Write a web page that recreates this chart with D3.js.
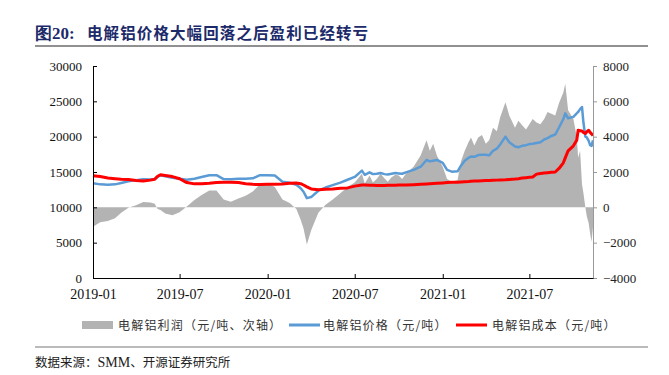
<!DOCTYPE html>
<html>
<head>
<meta charset="utf-8">
<script src="https://cdn.jsdelivr.net/npm/d3@7"></script>
<style>
  body { margin: 0; background: #fff; }
  svg { display: block; }
</style>
</head>
<body>
<div id="chart"></div>
<script>
// dates of the sampled points
const dates = [
  '2019-01-01','2019-01-16','2019-02-01','2019-02-16','2019-03-01','2019-03-16','2019-04-01','2019-04-16',
  '2019-05-01','2019-05-10','2019-05-16','2019-05-22','2019-06-01','2019-06-16','2019-07-01','2019-07-16',
  '2019-08-01','2019-08-16','2019-09-01','2019-09-16','2019-10-01','2019-10-16','2019-11-01','2019-11-16',
  '2019-12-01','2019-12-16','2020-01-01','2020-01-16','2020-02-01','2020-02-16','2020-03-01','2020-03-10',
  '2020-03-16','2020-03-23','2020-04-01','2020-04-16','2020-05-01','2020-05-16','2020-06-01','2020-06-16',
  '2020-07-01','2020-07-16','2020-07-22','2020-08-01','2020-08-08','2020-08-16','2020-08-24','2020-09-01',
  '2020-09-08','2020-09-16','2020-09-24','2020-10-01','2020-10-08','2020-10-16','2020-11-01','2020-11-16',
  '2020-11-28','2020-12-05','2020-12-12','2020-12-20','2021-01-01','2021-01-10','2021-01-20','2021-02-01',
  '2021-02-08','2021-02-16','2021-02-24','2021-03-01','2021-03-08','2021-03-16','2021-03-24','2021-04-01',
  '2021-04-08','2021-04-16','2021-04-24','2021-05-01','2021-05-12','2021-05-20','2021-06-01','2021-06-08',
  '2021-06-16','2021-06-24','2021-07-01','2021-07-08','2021-07-16','2021-07-24','2021-08-01','2021-08-08',
  '2021-08-16','2021-08-24','2021-09-01','2021-09-10','2021-09-14','2021-09-20','2021-10-01','2021-10-08',
  '2021-10-11','2021-10-15','2021-10-19','2021-10-22','2021-10-26','2021-10-29','2021-11-02','2021-11-05',
  '2021-11-08','2021-11-11'
];

// 电解铝利润 (元/吨, right axis)
const profit = [
  -1100,-850,-780,-620,-300,-30,120,300,
  280,200,-100,-150,-350,-450,-280,50,
  420,700,950,950,450,320,500,650,
  900,1300,1350,1150,450,250,-100,-700,
  -1200,-2100,-1300,-300,150,450,800,1150,
  1400,1900,1350,1800,1400,1600,1900,1650,
  1450,1700,1850,1800,1600,1900,2300,2950,
  3800,3200,3600,2900,2300,1600,1450,1550,
  2600,3200,3700,3950,3500,3950,4100,3600,
  3800,4500,4300,5100,5950,5200,4500,4900,
  4650,4400,4700,5000,4800,4700,5000,5400,
  5300,5200,5900,6500,7000,5500,5000,4000,
  2800,3200,1300,800,0,-500,-900,-1500,
  -1950,-1100
];

// 电解铝价格 (元/吨)
const price = [
  13400,13250,13200,13250,13450,13700,13850,13960,
  13950,14000,14300,14550,14400,14200,14050,13900,
  14050,14300,14550,14550,14000,13980,14050,14050,
  14100,14550,14550,14500,13630,13480,13200,12700,
  12200,11300,11450,12350,12800,13150,13500,13900,
  14300,15200,14600,14950,14700,14750,14850,14700,
  14650,14750,14850,14800,14750,14950,15300,15750,
  16700,16500,16600,16700,16300,15300,15050,15100,
  15900,16600,17000,17200,17150,17400,17450,17450,
  17350,18000,18300,18900,20000,19200,18600,18500,
  18700,18800,18950,19000,19100,19200,19600,19800,
  20100,20300,21300,22500,23300,22600,22800,23300,
  23500,23900,24200,22000,20000,19900,19400,18800,
  18700,19500
];

// 电解铝成本 (元/吨)
const cost = [
  14480,14350,14150,14050,13980,13950,13800,13730,
  13850,13960,14400,14600,14500,14350,14050,13500,
  13320,13350,13400,13520,13540,13560,13500,13350,
  13250,13240,13250,13260,13300,13400,13440,13350,
  13160,12900,12600,12500,12550,12600,12690,12750,
  13000,13160,13150,13140,13120,13100,13100,13100,
  13110,13120,13130,13150,13150,13160,13200,13250,
  13300,13330,13360,13400,13450,13500,13540,13560,
  13590,13620,13660,13700,13710,13720,13750,13780,
  13800,13820,13850,13870,13900,13950,14000,14050,
  14150,14200,14250,14300,14700,14800,14850,14900,
  14950,15000,15500,16300,17000,18000,18700,19500,
  20900,20850,20800,20600,20450,20700,20900,20600,
  20400,20150
];

const xTickLabels = ['2019-01','2019-07','2020-01','2020-07','2021-01','2021-07'];
const leftTicks = [0,5000,10000,15000,20000,25000,30000];
const rightTicks = [-4000,-2000,0,2000,4000,6000,8000];

const legendNames = ['电解铝利润（元/吨、次轴）','电解铝价格（元/吨）','电解铝成本（元/吨）'];

const W = 669, H = 375;
const m = {left: 93, right: 593, top: 66, bottom: 278};
const serif = '"Liberation Serif", "Times New Roman", serif';
const cjk = '"Noto Sans CJK SC", sans-serif';

const parse = d3.timeParse('%Y-%m-%d');
const parseMonth = d3.timeParse('%Y-%m');
const rows = dates.map((d, i) => ({date: parse(d), profit: profit[i], price: price[i], cost: cost[i]}));

const svg = d3.select('#chart').append('svg').attr('width', W).attr('height', H);

// title
const title = svg.append('text').attr('x', 35).attr('y', 39).attr('fill', '#1c2a6a').style('font-weight', 'bold');
title.append('tspan').style('font-family', serif).style('font-size', '17px').text('图20:');
title.append('tspan').attr('x', 87).style('font-family', cjk).style('font-size', '15.5px')
  .style('letter-spacing', '1.1px').text('电解铝价格大幅回落之后盈利已经转亏');
svg.append('line').attr('x1', 35).attr('x2', 648).attr('y1', 46).attr('y2', 46)
  .attr('stroke', '#222').attr('stroke-width', 1.2);

const x = d3.scaleTime().domain([parse('2019-01-01'), parse('2021-11-11')]).range([m.left, m.right]);
const yL = d3.scaleLinear().domain([0, 30000]).range([m.bottom, m.top]);
const yR = d3.scaleLinear().domain([-4000, 8000]).range([m.bottom, m.top]);

// profit area
const area = d3.area()
  .x(d => x(d.date))
  .y0(yR(0))
  .y1(d => yR(d.profit));
svg.append('path').datum(rows).attr('d', area).attr('fill', '#b3b3b3');

const priceLine = d3.line().x(d => x(d.date)).y(d => yL(d.price));
const costLine = d3.line().x(d => x(d.date)).y(d => yL(d.cost));
svg.append('path').datum(rows).attr('d', priceLine).attr('fill', 'none')
  .attr('stroke', '#5b9bd5').attr('stroke-width', 2.5).attr('stroke-linejoin', 'round');
svg.append('path').datum(rows).attr('d', costLine).attr('fill', 'none')
  .attr('stroke', '#ff0000').attr('stroke-width', 3).attr('stroke-linejoin', 'round');

// axes
const gL = svg.append('g').attr('transform', `translate(${m.left},0)`)
  .call(d3.axisLeft(yL).tickValues(leftTicks).tickSizeInner(-4).tickSizeOuter(0).tickPadding(11)
    .tickFormat(d3.format('d')));
const gR = svg.append('g').attr('transform', `translate(${m.right},0)`)
  .call(d3.axisRight(yR).tickValues(rightTicks).tickSizeInner(4).tickSizeOuter(0).tickPadding(6)
    .tickFormat(d3.format('d')));
const gB = svg.append('g').attr('transform', `translate(0,${m.bottom})`)
  .call(d3.axisBottom(x).tickValues(xTickLabels.map(parseMonth)).tickSizeInner(-4).tickSizeOuter(0)
    .tickPadding(11).tickFormat(d3.timeFormat('%Y-%m')));

[gL, gR, gB].forEach(g => {
  g.selectAll('text').style('font-family', serif).style('font-size', '13px').attr('fill', '#111');
});
gB.selectAll('text').style('font-size', '14px');
gL.select('.domain').attr('stroke', '#000');
gL.selectAll('.tick line').attr('stroke', '#000');
gR.select('.domain').attr('stroke', '#999');
gR.selectAll('.tick line').attr('stroke', '#999');
gR.selectAll('text').attr('fill', '#222');
gB.select('.domain').attr('stroke', '#000').attr('stroke-width', 1.2);

// legend
const legY = 325;
const legend = svg.append('g').style('font-family', cjk).style('font-size', '12px');
legend.append('rect').attr('x', 82).attr('y', legY - 4).attr('width', 31).attr('height', 8).attr('fill', '#b3b3b3');
legend.append('line').attr('x1', 289).attr('x2', 320).attr('y1', legY).attr('y2', legY)
  .attr('stroke', '#5b9bd5').attr('stroke-width', 3);
legend.append('line').attr('x1', 456).attr('x2', 487).attr('y1', legY).attr('y2', legY)
  .attr('stroke', '#ff0000').attr('stroke-width', 3);
[118, 323, 492].forEach((lx, i) => {
  legend.append('text').attr('x', lx).attr('y', legY + 4.5).attr('fill', '#333')
    .style('letter-spacing', '1.2px').text(legendNames[i]);
});

// source
svg.append('line').attr('x1', 35).attr('x2', 648).attr('y1', 347).attr('y2', 347)
  .attr('stroke', '#777').attr('stroke-width', 1);
const src = svg.append('text').attr('x', 35).attr('y', 367).attr('fill', '#222').style('font-size', '12.5px');
src.append('tspan').style('font-family', cjk).text('数据来源：');
src.append('tspan').style('font-family', serif).style('font-size', '14px').text('SMM');
src.append('tspan').style('font-family', cjk).text('、开源证券研究所');
</script>
</body>
</html>
